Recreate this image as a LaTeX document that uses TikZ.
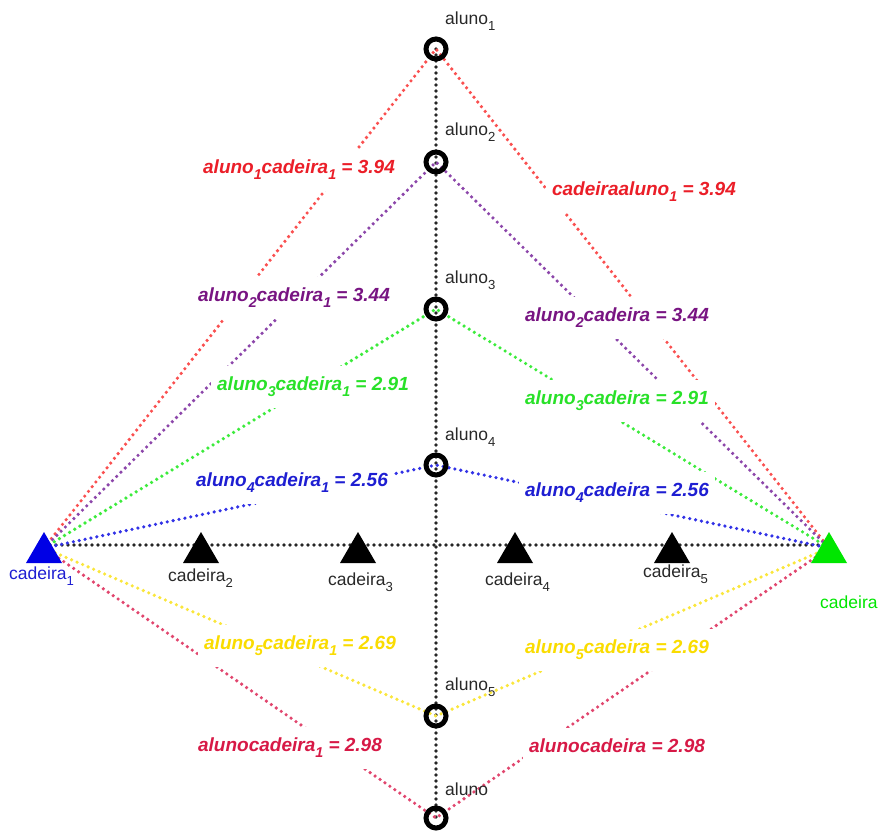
\documentclass[tikz,border=0pt]{standalone}
\usepackage{fontspec}
\setmainfont{Liberation Sans}
\definecolor{cred}{RGB}{235,30,40}
\definecolor{lred}{RGB}{250,80,80}
\definecolor{cpur}{RGB}{120,20,130}
\definecolor{lpur}{RGB}{140,70,170}
\definecolor{cgrn}{RGB}{40,225,40}
\definecolor{lgrn}{RGB}{60,235,60}
\definecolor{cblu}{RGB}{30,30,210}
\definecolor{lblu}{RGB}{50,50,230}
\definecolor{cyel}{RGB}{250,220,0}
\definecolor{lyel}{RGB}{250,230,60}
\definecolor{ccri}{RGB}{215,25,70}
\definecolor{lcri}{RGB}{225,70,110}
\definecolor{ctxt}{RGB}{40,40,40}
\definecolor{tgrn}{RGB}{0,230,0}
\newcommand\sbs[1]{\raisebox{-0.6ex}{\fontsize{0.75em}{1em}\selectfont #1}}
\tikzset{
  dotl/.style={line width=3.6pt, line cap=round, dash pattern=on 0pt off 6pt},
  elabel/.style={fill=white, inner xsep=6pt, inner ysep=11pt, font=\fontsize{19}{19}\selectfont\bfseries\itshape},
  nlabel/.style={inner sep=0pt, font=\fontsize{17.5}{17.5}\selectfont, text=ctxt},
  aluno/.style={circle, draw=black, line width=5pt, minimum size=20pt, inner sep=0pt},
}
\newcommand\tri[2]{\fill[#2] ([shift={(-18,15)}]#1) -- ([shift={(0,-16)}]#1) -- ([shift={(18,15)}]#1) -- cycle;}
\begin{document}
\begin{tikzpicture}[x=1pt,y=-1pt]
\useasboundingbox (0,0) rectangle (884,832);
% positions
\coordinate (c1) at (44,548);
\coordinate (c2) at (201,548);
\coordinate (c3) at (358,548);
\coordinate (c4) at (515,548);
\coordinate (c5) at (672,548);
\coordinate (c6) at (829,548);
\coordinate (a1) at (436,49);
\coordinate (a2) at (436,162);
\coordinate (a3) at (436,309);
\coordinate (a4) at (436,465);
\coordinate (a5) at (436,716);
\coordinate (a6) at (436,818);
% axes
\draw[dotl, black!85] (a1) -- (a6);
\draw[dotl, black!85] ([yshift=3]c1) -- ([yshift=3]c6);
% colored lines
\draw[dotl, lred] (c1) -- (a1) -- (c6);
\draw[dotl, lpur] (c1) -- (a2) -- (c6);
\draw[dotl, lgrn] (c1) -- (a3) -- (c6);
\draw[dotl, lblu] (c1) -- (a4) -- (c6);
\draw[dotl, lyel] (c1) -- (a5) -- (c6);
\draw[dotl, lcri] (c1) -- (a6) -- (c6);
% triangles
\tri{c1}{blue!90!black}
\tri{c2}{black}
\tri{c3}{black}
\tri{c4}{black}
\tri{c5}{black}
\tri{c6}{tgrn}
% circles
\foreach \n in {a1,a2,a3,a4,a5,a6} { \node[aluno] (n\n) at (\n) {}; }
% node labels
\node[nlabel, anchor=west] (la1) at (445,21) {aluno\sbs{1}};
\node[nlabel, anchor=west] (la2) at (445,132) {aluno\sbs{2}};
\node[nlabel, anchor=west] (la3) at (445,280) {aluno\sbs{3}};
\node[nlabel, anchor=west] (la4) at (445,437) {aluno\sbs{4}};
\node[nlabel, anchor=west] (la5) at (445,687) {aluno\sbs{5}};
\node[nlabel, anchor=west] (la6) at (445,789) {aluno};
\node[nlabel, anchor=west, text=cblu] (lc1) at (9,576) {cadeira\sbs{1}};
\node[nlabel, anchor=west] (lc2) at (168,578) {cadeira\sbs{2}};
\node[nlabel, anchor=west] (lc3) at (328,582) {cadeira\sbs{3}};
\node[nlabel, anchor=west] (lc4) at (485,582) {cadeira\sbs{4}};
\node[nlabel, anchor=west] (lc5) at (643,574) {cadeira\sbs{5}};
\node[nlabel, anchor=west, text=tgrn] (lc6) at (820,602) {cadeira};
% edge labels
\node[elabel, text=cred] (e1l) at (299,170) {aluno\sbs{1}cadeira\sbs{1} = 3.94};
\node[elabel, text=cred] (e1r) at (644,192) {cadeiraaluno\sbs{1} = 3.94};
\node[elabel, text=cpur] (e2l) at (294,298) {aluno\sbs{2}cadeira\sbs{1} = 3.44};
\node[elabel, text=cpur] (e2r) at (617,318) {aluno\sbs{2}cadeira = 3.44};
\node[elabel, text=cgrn] (e3l) at (313,387) {aluno\sbs{3}cadeira\sbs{1} = 2.91};
\node[elabel, text=cgrn] (e3r) at (617,401) {aluno\sbs{3}cadeira = 2.91};
\node[elabel, text=cblu] (e4l) at (292,483) {aluno\sbs{4}cadeira\sbs{1} = 2.56};
\node[elabel, text=cblu] (e4r) at (617,493) {aluno\sbs{4}cadeira = 2.56};
\node[elabel, text=cyel] (e5l) at (300,646) {aluno\sbs{5}cadeira\sbs{1} = 2.69};
\node[elabel, text=cyel] (e5r) at (617,650) {aluno\sbs{5}cadeira = 2.69};
\node[elabel, text=ccri] (e6l) at (290,748) {alunocadeira\sbs{1} = 2.98};
\node[elabel, text=ccri] (e6r) at (617,746) {alunocadeira = 2.98};
\end{tikzpicture}
\end{document}
